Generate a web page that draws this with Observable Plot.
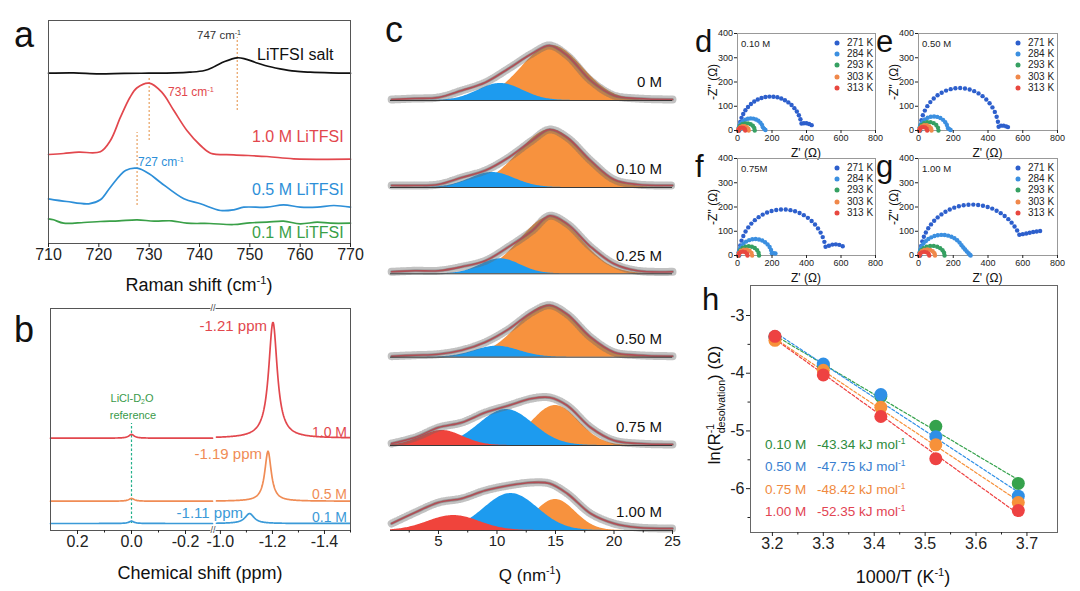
<!DOCTYPE html>
<html><head><meta charset="utf-8">
<script src="https://cdn.jsdelivr.net/npm/d3@7"></script>
<script src="https://cdn.jsdelivr.net/npm/@observablehq/plot@0.6"></script>
<style>
body{margin:0;background:#fff;}
#fig{position:relative;width:1080px;height:591px;overflow:hidden;font-family:Arial,"Liberation Sans",Helvetica,sans-serif;background:#fff}
.abs{position:absolute;white-space:nowrap;line-height:1}
sup{font-size:0.62em;vertical-align:0.6em;line-height:0}
sub{font-size:0.62em;vertical-align:-0.3em;line-height:0}
.ss{display:inline-flex;flex-direction:column;font-size:0.62em;line-height:1.0;vertical-align:0.55em}
.ld{position:absolute;width:5px;height:5px;border-radius:50%;transform:translate(-50%,-50%)}
</style></head><body><div id="fig"></div>
<script>
// ---------------- DATA ----------------
// (a) Raman spectra: [Raman shift, intensity (a.u., offset)]
const ramanSalt = [[710,170.3],[715,170.6],[720,169.7],[725,170.2],[730,170.3],[735,170.6],[738,171.3],[741,173],[743,177],[745,182],[747.5,185.7],[749,184.7],[751,181.3],[753,178],[756,174.7],[759,172.3],[762,171.3],[766,170.6],[770,170.3]];
const ramanRed = [[710,89],[713,90],[716,91.3],[720.3,91.8],[722.3,103],[724.3,126.3],[726.2,146.3],[727.6,155.7],[730,160.3],[732.5,151.3],[734.9,133],[737.5,113],[740.2,98],[742.2,90.3],[746.8,88.7],[753.4,87],[758.7,84.7],[770,84.3]];
const ramanBlue = [[710,44.7],[713.6,42],[718,39.7],[720.3,43.7],[722.3,56.3],[725.3,73],[727.6,75.3],[730,69.7],[732.2,61.3],[736.9,44.7],[740.2,39.7],[744.2,33],[746.8,33.7],[748.8,36.3],[753.4,36.3],[756.7,38.7],[760,36.3],[763.4,36.3],[766.7,38],[770,36.3]];
const ramanGreen = [[710,24.7],[711,23.7],[713,20.3],[717,21],[720.3,22],[724,22.7],[727.6,23.7],[731,22.3],[734.5,22.7],[737.5,20.3],[742,20],[746.8,19],[750,20.7],[753.4,21.3],[756.7,22.3],[760,19.7],[763.4,21.3],[766,20.3],[770,20.3]];
const ramanPeakGuides = [{x:747.5,y1:133,y2:206},{x:730,y1:103,y2:165},{x:727.6,y1:38,y2:111}];
const ramanTicks = [710,720,730,740,750,760,770];

// (b) 7Li NMR: Lorentzian peak parameters
const nmrNames = ["1.0 M","0.5 M","0.1 M"];
const nmrColors = ["#e2474d","#f08c55","#3b9ad8"];
const nmrBase = [92.3,29.3,7];
const nmrRefAmp = [3.8,2.8,2.3];
const nmrPeakPos = [-1.202,-1.183,-1.112];
const nmrPeakAmp = [116,50,10];
const nmrPeakHW = [0.02,0.015,0.021];
const nmrRefGuide = [{x:0,y1:7,y2:107}];
const nmrTicks = [0.2,0,-0.2,-1.0,-1.2,-1.4];
const nmrMinor = [0.1,-0.1,-1.1,-1.3,-1.5];

// (c) WAXS: fitted envelope heights on a Q grid and Gaussian components [centre, height, sigma]
const waxsNames = ["0 M","0.10 M","0.25 M","0.50 M","0.75 M","1.00 M"];
const waxsOffset = [430,343,256.7,173.3,85,0];
const qGrid = [1,3,5,7,9,11,13,14.5,16,18,20,22,25];
const waxsFit = [
  [1,2,3,10,18,32,47,55,45,20,5,2,1],
  [2,2,3,10,17,30,47,58,50,27,8,3,2],
  [2,3,3,7,13,27,43,58,50,27,10,3,2],
  [1,2,3,7,15,28,45,52,43,20,5,2,1],
  [2,8,18,23,33,40,47,48,40,18,5,2,1],
  [7,18,28,32,40,45,48,47,37,17,7,3,2]
];
const waxsOrange = [[14.7,55,2.6],[14.6,58,2.75],[14.6,57,2.6],[14.4,52,2.6],[15.0,40,2.0],[15.0,31,1.7]];
const waxsBlue = [[10.3,17,1.9],[9.6,15,1.9],[10.3,15,1.7],[10.0,11,1.9],[10.8,36,2.3],[11.2,37,2.3]];
const waxsRed = [null,null,null,null,[5.3,15,1.8],[6.3,15,2.2]];

// (d-g) EIS Nyquist arcs: [Z'start, Z'end, height, dots, startDeg, endDeg] + tail points
const eisTemps = ["271 K","284 K","293 K","303 K","313 K"];
const eisColors = ["#2d5fcc","#3b8fe0","#36a062","#f0884a","#e8473f"];
const eisConc = ["0.10 M","0.50 M","0.75M","1.00 M"];
const eisArcs = [
  [[10,375,140,24,180,12],[5,150,50,14,180,15],[5,100,30,10,180,0],[5,65,18,8,180,0],[5,45,12,7,180,0]],
  [[10,462,175,26,180,5],[5,170,58,14,180,10],[5,115,35,10,180,0],[5,75,22,8,180,0],[5,50,14,7,180,0]],
  [[10,515,190,28,180,11],[5,200,68,16,180,8],[5,125,38,11,180,0],[5,85,25,8,180,0],[5,58,16,7,180,0]],
  [[10,606,210,30,180,24],[5,265,85,18,180,30],[5,150,40,12,180,0],[5,95,25,9,180,0],[5,62,15,7,180,0]]
];
const eisTails = [
  [[[385,30],[400,30],[415,27],[430,22]],[[155,6],[162,2]],[],[],[]],
  [[[475,20],[490,20],[505,17],[515,14]],[[178,5],[185,2]],[],[],[]],
  [[[530,40],[550,45],[570,46],[590,44],[610,38]],[[210,10],[220,8]],[],[],[]],
  [[[600,88],[620,91],[640,94],[660,97],[680,99],[700,101]],[[258,33],[268,25],[278,17],[288,9],[296,3],[300,0]],[],[],[]]
];

// (h) Arrhenius
const hX = [3.205,3.30,3.413,3.521,3.683];
const hConc = ["0.10 M","0.50 M","0.75 M","1.00 M"];
const hEa = ["-43.34","-47.75","-48.42","-52.35"];
const hColors = ["#35a24c","#2f8fe6","#f7913a","#ee4242"];
const hTextColors = ["#2e8b3c","#3a7fd0","#f08a40","#e24452"];
const hY = [
  [-3.37,-3.87,-4.40,-4.92,-5.91],
  [-3.37,-3.84,-4.37,-5.10,-6.13],
  [-3.43,-3.95,-4.59,-5.24,-6.24],
  [-3.36,-4.03,-4.75,-5.48,-6.38]
];

// ---------------- HELPERS ----------------
const FONT = "Arial, 'Liberation Sans', Helvetica, sans-serif";
const fig = document.getElementById("fig");
const style = {fontFamily: FONT, background: "transparent", overflow: "visible", color: "#222"};
function place(svg, left, top){ svg.style.position="absolute"; svg.style.left=left+"px"; svg.style.top=top+"px"; fig.appendChild(svg); }
function label(html, x, y, o = {}){
  const d = document.createElement("div"); d.className = "abs"; d.innerHTML = html;
  d.style.left = x+"px"; d.style.top = y+"px"; d.style.fontSize = (o.size||12)+"px"; d.style.color = o.color||"#111";
  const tx = o.anchor==="end" ? "-100%" : o.anchor==="middle" ? "-50%" : "0";
  d.style.transform = `translate(${tx},-50%)` + (o.rotate ? " rotate(-90deg)" : "");
  if (o.bg) d.style.background = o.bg;
  fig.appendChild(d);
}
function legendDot(x, y, color){ const d=document.createElement("div"); d.className="ld"; d.style.left=x+"px"; d.style.top=y+"px"; d.style.background=color; fig.appendChild(d); }

// ---------------- (a) ----------------
{
  const series = [[ramanSalt,"#111"],[ramanRed,"#e2474d"],[ramanBlue,"#2d8fd8"],[ramanGreen,"#3aa048"]];
  const marks = [
    Plot.ruleX(ramanPeakGuides, {x:"x", y1:"y1", y2:"y2", stroke:"#e8a060", strokeWidth:1.2, strokeDasharray:"2,2"}),
    ...series.map(([pts,c]) => Plot.line(pts, {x:d=>d[0], y:d=>d[1], stroke:c, strokeWidth:1.7, curve:"catmull-rom"})),
    Plot.frame({stroke:"#555"}),
    Plot.axisX({ticks: ramanTicks, tickSize:4, tickPadding:1, fontSize:16, label:null})
  ];
  place(Plot.plot({width:360, height:300, marginLeft:48, marginRight:10, marginTop:20, marginBottom:57, style,
    x:{domain:[710,770]}, y:{domain:[0,223], axis:null}, marks}), 0, 0);
  label("a", 14, 35, {size:36});
  label("747 cm<sup>-1</sup>", 197, 36, {size:11.5, color:"#333"});
  label("LiTFSI salt", 257, 55, {size:16});
  label("731 cm<sup>-1</sup>", 168, 92, {size:12, color:"#e2474d"});
  label("1.0 M LiTFSI", 252, 137, {size:16, color:"#e2474d"});
  label("727 cm<sup>-1</sup>", 138, 162, {size:12, color:"#2d8fd8"});
  label("0.5 M LiTFSI", 252, 190, {size:16, color:"#2d8fd8"});
  label("0.1 M LiTFSI", 252, 233, {size:16, color:"#3aa048"});
  label("Raman shift (cm<sup>-1</sup>)", 199, 285, {size:18, anchor:"middle"});
}

// ---------------- (b) ----------------
{
  const lor = (x,c,hw) => 1/(1+((x-c)/hw)**2);
  const segs = [d3.range(0.3,-0.3001,-0.002), d3.range(-0.985,-1.5001,-0.002)];
  const marks = [
    Plot.ruleX(nmrRefGuide, {x:"x", y1:"y1", y2:"y2", stroke:"#22b08a", strokeWidth:1.2, strokeDasharray:"2.5,2"})
  ];
  nmrNames.forEach((n,i) => {
    segs.forEach(xs => {
      const pts = xs.map(x => ({x, y: nmrBase[i] + nmrRefAmp[i]*lor(x,0,0.012) + nmrPeakAmp[i]*lor(x,nmrPeakPos[i],nmrPeakHW[i])}));
      marks.push(Plot.line(pts, {x:"x", y:"y", stroke:nmrColors[i], strokeWidth:1.7}));
    });
  });
  marks.push(Plot.frame({stroke:"#555"}));
  marks.push(Plot.axisX({ticks:nmrTicks, tickFormat:d=>d.toFixed(1), tickSize:4, tickPadding:1, fontSize:16, label:null}));
  marks.push(Plot.axisX({ticks:nmrMinor, tickFormat:()=>"", tickSize:2.5, label:null}));
  place(Plot.plot({width:360, height:301, marginLeft:50, marginRight:10, marginTop:18, marginBottom:61, style,
    x:{type:"linear", domain:[0.3,-0.3,-0.985,-1.5], range:[50,212,216,350]}, y:{domain:[0,222], axis:null}, marks}), 0, 290);
  label("b", 14, 330, {size:36});
  label("//", 213, 308, {size:9, anchor:"middle", bg:"#fff", color:"#444"});
  label("//", 213, 530, {size:9, anchor:"middle", bg:"#fff", color:"#444"});
  label("-1.21 ppm", 267, 325, {size:15, color:"#e2474d", anchor:"end"});
  label("1.0 M", 347, 432, {size:14, color:"#e2474d", anchor:"end"});
  label("-1.19 ppm", 262, 453, {size:15, color:"#f08c55", anchor:"end"});
  label("0.5 M", 347, 494, {size:14, color:"#f08c55", anchor:"end"});
  label("-1.11 ppm", 243, 512, {size:15, color:"#3b9ad8", anchor:"end"});
  label("0.1 M", 347, 517, {size:14, color:"#3b9ad8", anchor:"end"});
  label("LiCl-D<sub>2</sub>O", 132, 398, {size:11, color:"#3a9a4a", anchor:"middle"});
  label("reference", 133, 415, {size:11, color:"#3a9a4a", anchor:"middle"});
  label("Chemical shift (ppm)", 200, 573, {size:18, anchor:"middle"});
}

// ---------------- (c) ----------------
{
  const qs = d3.range(0.9, 25.001, 0.1);
  const gauss = (q,[c,h,s]) => h*Math.exp(-((q-c)**2)/(2*s*s));
  const marks = [];
  waxsNames.forEach((n,i) => {
    const off = waxsOffset[i];
    [[waxsOrange[i],"#f7923e"],[waxsBlue[i],"#1d9bef"],[waxsRed[i],"#f0443c"]].forEach(([p,c]) => {
      if (!p) return;
      marks.push(Plot.areaY(qs.map(q => ({q, y1:off, y2:off+gauss(q,p)})), {x:"q", y1:"y1", y2:"y2", fill:c}));
    });
    const env = qGrid.map((q,j) => ({q, y: off + waxsFit[i][j]}));
    marks.push(Plot.line(env, {x:"q", y:"y", stroke:"#777", strokeWidth:3, strokeOpacity:0.55, curve:"catmull-rom"}));
    marks.push(Plot.line(env, {x:"q", y:"y", stroke:"#666", strokeWidth:8, strokeOpacity:0.4, strokeDasharray:"0.8,1.8", curve:"catmull-rom"}));
    marks.push(Plot.line(env, {x:"q", y:"y", stroke:"#b04e55", strokeWidth:1.6, curve:"catmull-rom"}));
    marks.push(Plot.ruleY([off], {stroke:"#3a3a3a", strokeWidth:1}));
  });
  marks.push(Plot.text(waxsNames.map((t,i) => ({t, y: waxsOffset[i]})), {x:24.1, y:"y", text:"t", dy:-18, textAnchor:"end", fontSize:15, fill:"#111"}));
  marks.push(Plot.axisX({ticks:[5,10,15,20,25], tickSize:4, tickPadding:1, fontSize:15, label:null}));
  marks.push(Plot.axisX({ticks:[2.5,7.5,12.5,17.5,22.5], tickFormat:()=>"", tickSize:2.5, label:null}));
  place(Plot.plot({width:307, height:591, marginLeft:15, marginRight:10, marginTop:20, marginBottom:61, style,
    x:{domain:[0.9,25]}, y:{domain:[0,510], axis:null}, marks}), 375, 0);
  label("c", 385, 30, {size:36});
  label("Q (nm<sup>-1</sup>)", 530, 575, {size:17, anchor:"middle"});
}

// ---------------- (d-g) ----------------
{
  const pos = [[690,20],[871,20],[690,145],[871,145]];
  const letters = ["d","e","f","g"];
  eisArcs.forEach((arcs, p) => {
    const marks = [Plot.frame({stroke:"#999"})];
    arcs.forEach(([x0,x1,h,n,a0,a1], k) => {
      const c = (x0+x1)/2, r = (x1-x0)/2, pts = [];
      for (let i = 0; i < n; i++) { const a = (a0 + (a1-a0)*i/(n-1))*Math.PI/180; pts.push({x: c + r*Math.cos(a), y: h*Math.sin(a)}); }
      eisTails[p][k].forEach(([x,y]) => pts.push({x,y}));
      marks.push(Plot.dot(pts, {x:"x", y:"y", r:2.2, fill:eisColors[k], stroke:null}));
    });
    marks.push(Plot.axisX({ticks:[0,200,400,600,800], tickSize:3, tickPadding:1.5, fontSize:9, label:null}));
    marks.push(Plot.axisY({ticks:[0,100,200,300,400], tickSize:3, tickPadding:1.5, fontSize:9, label:null}));
    const [L,T] = pos[p];
    place(Plot.plot({width:200, height:145, marginLeft:47, marginRight:(p%2 ? 14 : 15), marginTop:13, marginBottom:35, style,
      x:{domain:[0,800]}, y:{domain:[0,400]}, marks}), L, T);
    const fl = L + 47, ft = T + 13, fr = L + 200 - (p%2 ? 14 : 15);
    label(letters[p], L + 5, T + 21, {size:31});
    label(eisConc[p], fl + 4, ft + 11, {size:9.5, color:"#222"});
    eisTemps.forEach((t,k) => {
      const yy = ft + 9.7 + k*11.3;
      legendDot(fl + 100, yy, eisColors[k]);
      label(t, fl + 110, yy, {size:10, color:"#222"});
    });
    label("Z' (Ω)", (fl+fr)/2, ft + 120, {size:12, anchor:"middle"});
    label("-Z'' (Ω)", L + 23, ft + 48.5, {size:12, anchor:"middle", rotate:true});
  });
}

// ---------------- (h) ----------------
{
  const marks = [];
  hConc.forEach((n,i) => {
    const pts = hX.map((x,j) => ({x, y: hY[i][j]}));
    marks.push(Plot.linearRegressionY(pts, {x:"x", y:"y", stroke:hColors[i], ci:0, strokeWidth:1.2, strokeDasharray:"3,2"}));
  });
  hConc.forEach((n,i) => {
    const pts = hX.map((x,j) => ({x, y: hY[i][j]}));
    marks.push(Plot.dot(pts, {x:"x", y:"y", r:6.5, fill:hColors[i], stroke:null}));
  });
  marks.push(Plot.frame({stroke:"#666"}));
  marks.push(Plot.axisX({ticks:[3.2,3.3,3.4,3.5,3.6,3.7], tickFormat:d=>d.toFixed(1), tickSize:4, tickPadding:1, fontSize:16, label:null}));
  marks.push(Plot.axisX({ticks:[3.25,3.35,3.45,3.55,3.65], tickFormat:()=>"", tickSize:2.5, label:null}));
  marks.push(Plot.axisY({ticks:[-3,-4,-5,-6], tickFormat:d=>String(d), tickSize:4, tickPadding:2, fontSize:16, label:null}));
  marks.push(Plot.axisY({ticks:[-3.5,-4.5,-5.5,-6.5], tickFormat:()=>"", tickSize:2.5, label:null}));
  place(Plot.plot({width:380, height:311, marginLeft:60, marginRight:13, marginTop:5, marginBottom:59, style,
    x:{domain:[3.157,3.76]}, y:{domain:[-6.76,-2.48]}, marks}), 690, 280);
  label("h", 702, 299, {size:31});
  hConc.forEach((n,i) => {
    const yy = 445 + i*22.4;
    label(n, 765, yy, {size:13.5, color:hTextColors[i]});
    label(hEa[i] + " kJ mol<sup>-1</sup>", 817, yy, {size:13.5, color:hTextColors[i]});
  });
  label("1000/T (K<sup>-1</sup>)", 903, 577, {size:18, anchor:"middle"});
  label("ln(R<span class='ss'><span>-1</span><span>desolvation</span></span>) (Ω)", 716, 405, {size:17, anchor:"middle", rotate:true});
}
</script></body></html>
